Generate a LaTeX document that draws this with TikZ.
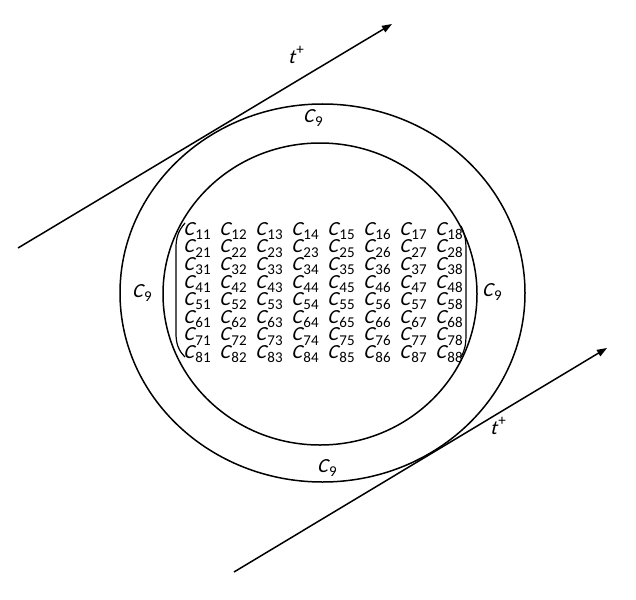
\documentclass[tikz,border=0pt]{standalone}
\usepackage{fontspec}
\setmainfont{Carlito}
\newfontfamily\slantfont{Carlito}[FakeSlant=0.25]
\usetikzlibrary{arrows.meta}

% matrix entry and tangent label
\newcommand{\cel}[1]{{\slantfont C}\kern0.7pt\raisebox{-0.45ex}{\fontsize{7.5}{8}\selectfont #1}}
\newcommand{\tplus}{{\slantfont t}\kern0.8pt\raisebox{0.9ex}{\fontsize{7.5}{8}\selectfont +}}

\begin{document}
\begin{tikzpicture}[x=0.5pt, y=-0.5pt, font=\fontsize{10}{12}\selectfont]

    \tikzset{
        ring/.style={line width=0.75pt},
        tangent/.style={line width=0.75pt, -{Triangle[length=5pt, width=3.6pt]}},
        bracket/.style={line width=0.6pt},
        cell/.style={inner sep=0pt, anchor=west},
        lbl/.style={inner sep=0pt}
    }

    \useasboundingbox (0,0) rectangle (636,599);

    % Rings
    \draw[ring] (322.5,293) ellipse [x radius=202.5, y radius=189];
    \draw[ring] (320,294) ellipse [x radius=157, y radius=151];

    % Tangent lines
    \coordinate (t1s) at (18,248);
    \coordinate (t1e) at (392,24);
    \coordinate (t2s) at (234,572);
    \coordinate (t2e) at (607,348);
    \draw[tangent] (t1s) -- (t1e);
    \draw[tangent] (t2s) -- (t2e);
    \node[lbl] (tp1) at (296,55) {\tplus};
    \node[lbl] (tp2) at (498,426) {\tplus};

    % C9 labels
    \node[lbl] (c9top) at (313,118) {\cel{9}};
    \node[lbl] (c9left) at (142,293) {\cel{9}};
    \node[lbl] (c9right) at (492,292) {\cel{9}};
    \node[lbl] (c9bot) at (327,468) {\cel{9}};

    % Matrix entries
    \foreach \r in {1,...,8}
        \foreach \c in {1,...,8} {
            \pgfmathtruncatemacro\idx{(\r==2 && \c==4) ? 23 : 10*\r+\c}
            \node[cell] (c\r\c) at ({183+36*(\c-1)}, {231+17.6*(\r-1)}) {\cel{\idx}};
        }

    % Brackets
    \draw[bracket] (185,223) .. controls (178,231) and (176,238) .. (176,248)
        -- (176,333) .. controls (176,343) and (178,350) .. (185,357);
    \draw[bracket] (461,226) .. controls (465,234) and (466,240) .. (466,250)
        -- (466,334) .. controls (466,344) and (465,350) .. (461,357);

\end{tikzpicture}
\end{document}
